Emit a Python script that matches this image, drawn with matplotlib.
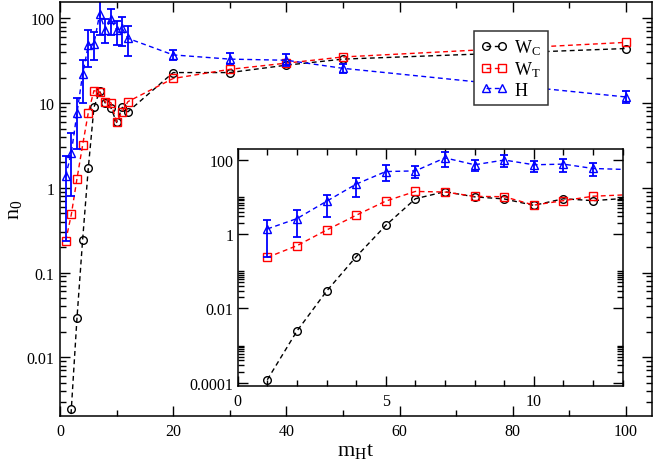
import matplotlib
matplotlib.use("Agg")
import matplotlib.pyplot as plt
import numpy as np
from matplotlib.ticker import (FixedLocator, MultipleLocator, LogLocator,
                               FuncFormatter, NullFormatter)

plt.rcParams['font.family'] = ['Liberation Serif', 'DejaVu Serif']
plt.rcParams['mathtext.default'] = 'regular'

# time points m_H t
t = np.array([1, 2, 3, 4, 5, 6, 7, 8, 9, 10, 11, 12, 20, 30, 40, 50, 100])

# occupation numbers
wc = np.array([0.00012, 0.00245, 0.029, 0.245, 1.71, 8.9, 13.8, 10.0, 8.8, 5.9,
               8.9, 7.9, 22.9, 22.9, 28.0, 33.0, 44.0])
wt = np.array([0.235, 0.485, 1.28, 3.2, 7.7, 14.0, 13.5, 10.3, 10.1, 6.0,
               7.9, 10.4, 19.5, 25.0, 29.6, 35.0, 52.0])
h = np.array([1.37, 2.6, 7.6, 22.0, 48.0, 50.0, 112.0, 73.0, 98.0, 73.0,
              76.0, 58.0, 37.0, 33.0, 32.0, 25.7, 11.8])
h_lo = np.array([0.235, 0.81, 2.9, 10.0, 27.0, 32.0, 64.0, 51.0, 63.0, 48.0,
                 47.0, 36.0, 32.0, 29.0, 27.6, 22.5, 10.1])
h_hi = np.array([2.4, 4.4, 11.5, 32.0, 72.0, 69.0, 158.0, 98.0, 130.0, 93.0,
                 104.0, 81.0, 42.0, 39.0, 38.0, 29.0, 13.9])

W, H = 654, 464
fig = plt.figure(figsize=(W / 100, H / 100), dpi=100)
ax = fig.add_axes([60 / W, 1 - 416.7 / H, 592 / W, 414 / H])
ins = fig.add_axes([237.7 / W, 1 - 386.7 / H, 385 / W, 236.7 / H])

dash = (0, (3.5, 2.5))


def draw(a):
    a.plot(t, wc, ls=dash, lw=1, color='black', marker='o', ms=5.5,
           mfc='none', mew=1, label='W$_C$')
    a.plot(t, wt, ls=dash, lw=1, color='red', marker='s', ms=5.5,
           mfc='none', mew=1, label='W$_T$')
    a.errorbar(t, h, yerr=[h - h_lo, h_hi - h], fmt='none', ecolor='blue',
               elinewidth=1.3, capsize=3, capthick=1.3)
    a.plot(t, h, ls=dash, lw=1, color='blue', marker='^', ms=6,
           mfc='none', mew=1, label='H')
    a.set_yscale('log')
    a.tick_params(which='both', direction='in', top=True, right=True,
                  labelsize=11.5, width=1)
    a.tick_params(which='major', length=7)
    a.tick_params(which='minor', length=4)
    for s in a.spines.values():
        s.set_linewidth(1.1)
    a.yaxis.set_major_formatter(FuncFormatter(lambda v, p: '%g' % v))
    a.yaxis.set_minor_formatter(NullFormatter())


draw(ax)
ax.set_xlim(0, 104.6)
ax.set_ylim(0.00205, 157)
ax.xaxis.set_major_locator(MultipleLocator(20))
ax.xaxis.set_minor_locator(MultipleLocator(10))
ax.yaxis.set_major_locator(LogLocator(base=10, numticks=20))
ax.yaxis.set_minor_locator(LogLocator(base=10, subs=np.arange(2, 10), numticks=20))
ax.tick_params(axis='y', pad=4)
ax.tick_params(axis='x', pad=5)
ax.set_xlabel('m$_H$t', fontsize=16, labelpad=2)
ax.set_ylabel('n$_0$', fontsize=16, labelpad=2)

leg = ax.legend(loc='upper left', bbox_to_anchor=(0.699, 0.93), numpoints=2,
                handlelength=1.5, fontsize=13, fancybox=False, framealpha=1,
                edgecolor='#333333', borderpad=0.35, labelspacing=0.15,
                handletextpad=0.4, borderaxespad=0)
leg.get_frame().set_linewidth(1.1)

draw(ins)
ins.set_xlim(0, 13)
ins.set_ylim(8.3e-5, 194)
ins.xaxis.set_major_locator(MultipleLocator(5))
ins.xaxis.set_minor_locator(MultipleLocator(1))
ins.yaxis.set_major_locator(FixedLocator([1e-4, 1e-2, 1, 100]))
ins.yaxis.set_minor_locator(FixedLocator(
    [k * 10.0 ** e for e in (-4, -2, 0, 2) for k in range(2, 11)]))
ins.tick_params(axis='y', pad=3)
ins.tick_params(axis='x', pad=5)

fig.savefig('out.png', dpi=100)
